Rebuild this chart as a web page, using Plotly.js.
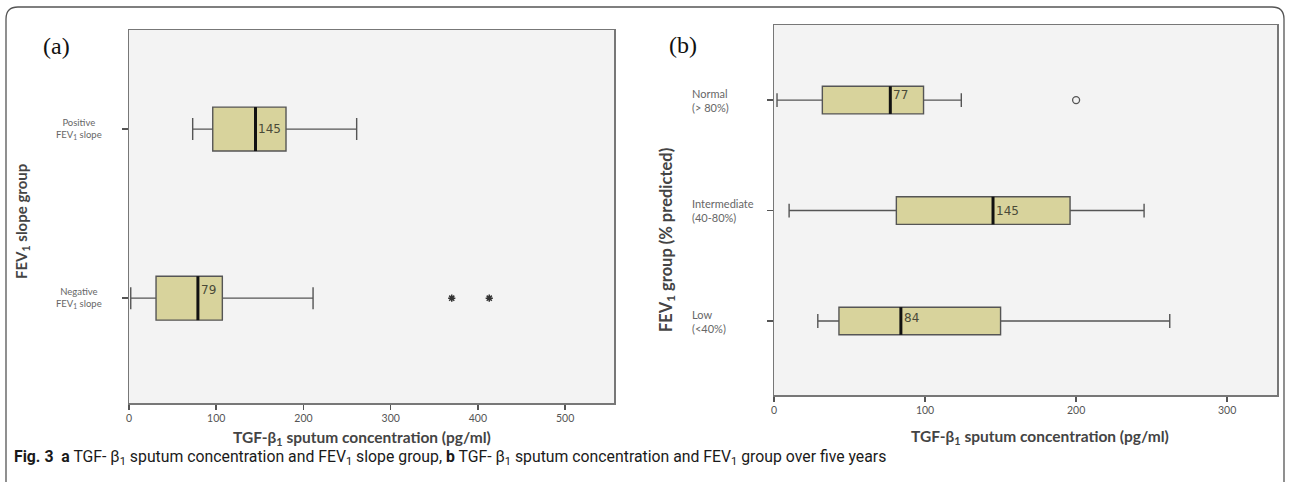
<!DOCTYPE html>
<html>
<head>
<meta charset="utf-8">
<script src="https://cdn.plot.ly/plotly-3.0.1.min.js"></script>
<style>html,body{margin:0;padding:0;background:#fff}#chart{width:1290px;height:482px}</style>
</head>
<body>
<div id="chart"></div>
<script>
// ---------- Panel (a): FEV1 slope group ----------
const groupsA = ['Positive<br>FEV<sub>1</sub> slope', 'Negative<br>FEV<sub>1</sub> slope'];
const lowerA  = [73, 2];
const q1A     = [96, 31];
const medianA = [145, 79];
const q3A     = [180, 107];
const upperA  = [261, 211];
const outlierA_x     = [370, 413];
const outlierA_group = [1, 1];

// ---------- Panel (b): FEV1 group (% predicted) ----------
const groupsB = ['Normal<br>(&gt; 80%)', 'Intermediate<br>(40-80%)', 'Low<br>(&lt;40%)'];
const lowerB  = [2, 10, 29];
const q1B     = [32, 81, 43];
const medianB = [77, 145, 84];
const q3B     = [99, 196, 150];
const upperB  = [124, 245, 262];
const outlierB_x     = [200];
const outlierB_group = [0];

const xTicksA = [0, 100, 200, 300, 400, 500];
const xTicksB = [0, 100, 200, 300];

const xTitle  = '<b>TGF-β<sub>1</sub> sputum concentration (pg/ml)</b>';
const yTitleA = '<b>FEV<sub>1</sub> slope group</b>';
const yTitleB = '<b>FEV<sub>1</sub> group (% predicted)</b>';
const caption = '<b>Fig. 3</b>  <b>a</b> TGF- β<sub>1</sub> sputum concentration and FEV<sub>1</sub> slope group, <b>b</b> TGF- β<sub>1</sub> sputum concentration and FEV<sub>1</sub> group over five years';

// ---------- styling ----------
const W = 1290, H = 482;
const px = v => v / W;
const py = v => 1 - v / H;
const FILL = '#d8d39c', EDGE = '#555555';
const boxWA = 0.26, boxWB = 0.25;
const FONT = 'Lato, "Open Sans", sans-serif';

function idx(arr) { return arr.map((_, i) => i); }
function medianLines(med, w) {
  const x = [], y = [];
  med.forEach((m, i) => { x.push(m, m, null); y.push(i - w / 2, i + w / 2, null); });
  return {x, y};
}

const mA = medianLines(medianA, boxWA);
const mB = medianLines(medianB, boxWB);

const boxCommon = {
  type: 'box', orientation: 'h', boxpoints: false, hoverinfo: 'skip',
  fillcolor: FILL, line: {color: EDGE, width: 1.4}, whiskerwidth: 0.5, showlegend: false
};

const data = [
  Object.assign({}, boxCommon, {
    y: idx(groupsA), q1: q1A, median: medianA, q3: q3A,
    lowerfence: lowerA, upperfence: upperA, width: boxWA, xaxis: 'x', yaxis: 'y'
  }),
  {type: 'scatter', mode: 'lines', x: mA.x, y: mA.y, xaxis: 'x', yaxis: 'y',
   line: {color: '#111', width: 3}, hoverinfo: 'skip', showlegend: false},
  {type: 'scatter', mode: 'markers', x: outlierA_x, y: outlierA_group, xaxis: 'x', yaxis: 'y',
   marker: {symbol: 'asterisk-open', size: 6, color: '#333', line: {color: '#333', width: 1.5}},
   hoverinfo: 'skip', showlegend: false},
  Object.assign({}, boxCommon, {
    y: idx(groupsB), q1: q1B, median: medianB, q3: q3B,
    lowerfence: lowerB, upperfence: upperB, width: boxWB, xaxis: 'x2', yaxis: 'y2'
  }),
  {type: 'scatter', mode: 'lines', x: mB.x, y: mB.y, xaxis: 'x2', yaxis: 'y2',
   line: {color: '#111', width: 3}, hoverinfo: 'skip', showlegend: false},
  {type: 'scatter', mode: 'markers', x: outlierB_x, y: outlierB_group, xaxis: 'x2', yaxis: 'y2',
   marker: {symbol: 'circle-open', size: 7, color: '#555', line: {color: '#555', width: 1.3}},
   hoverinfo: 'skip', showlegend: false}
];

const axisFrame = {
  showline: true, mirror: true, linecolor: '#777', linewidth: 1.5,
  showgrid: false, zeroline: false, ticks: 'outside', tickcolor: '#555', tickwidth: 1.5
};

const layout = {
  width: W, height: H,
  margin: {l: 0, r: 0, t: 0, b: 0},
  paper_bgcolor: '#ffffff', plot_bgcolor: '#f3f3f3',
  showlegend: false,
  font: {family: FONT, color: '#555'},
  xaxis: Object.assign({}, axisFrame, {
    domain: [px(129), px(614)], range: [0, 556], anchor: 'y',
    tickvals: xTicksA, ticklen: 5,
    tickfont: {size: 10.5, color: '#555', family: FONT}
  }),
  yaxis: Object.assign({}, axisFrame, {
    domain: [py(403), py(30)], range: [1.62, -0.586], anchor: 'x',
    tickvals: idx(groupsA), showticklabels: false, ticklen: 6
  }),
  xaxis2: Object.assign({}, axisFrame, {
    domain: [px(774), px(1277)], range: [0, 333], anchor: 'y2',
    tickvals: xTicksB, ticklen: 5,
    tickfont: {size: 10.5, color: '#555', family: FONT}
  }),
  yaxis2: Object.assign({}, axisFrame, {
    domain: [py(395), py(25)], range: [2.67, -0.68], anchor: 'x2',
    tickvals: idx(groupsB), showticklabels: false, ticklen: 6
  }),
  annotations: [],
  shapes: [
    {type: 'path', xref: 'paper', yref: 'paper',
     path: `M ${px(6)},${py(482)} L ${px(6)},${py(19)} Q ${px(6)},${py(7)} ${px(18)},${py(7)} L ${px(1272)},${py(7)} Q ${px(1284)},${py(7)} ${px(1284)},${py(19)} L ${px(1284)},${py(482)}`,
     line: {color: '#555', width: 1.3}}
  ]
};

const A = layout.annotations;
function note(o) { A.push(Object.assign({showarrow: false, xanchor: 'center', yanchor: 'middle'}, o)); }

// axis titles
note({text: xTitle, xref: 'paper', yref: 'paper', x: px(362), y: py(438), font: {size: 15.5, color: '#444', family: FONT}});
note({text: xTitle, xref: 'paper', yref: 'paper', x: px(1040), y: py(437), font: {size: 15.5, color: '#444', family: FONT}});
note({text: yTitleA, xref: 'paper', yref: 'paper', x: px(22), y: py(222), textangle: -90, font: {size: 15, color: '#444', family: FONT}});
note({text: yTitleB, xref: 'paper', yref: 'paper', x: px(666), y: py(240), textangle: -90, font: {size: 16.5, color: '#444', family: FONT}});

// category labels
groupsA.forEach((g, i) => note({
  text: g, xref: 'paper', yref: 'y', x: px(104), y: i, xanchor: 'right', align: 'center',
  font: {size: 9.5, color: '#666', family: FONT}
}));
groupsB.forEach((g, i) => note({
  text: g, xref: 'paper', yref: 'y2', x: px(690), y: i, xanchor: 'left', align: 'left',
  font: {size: 11, color: '#666', family: FONT}
}));
// median labels
const shiftA = [0, 8], shiftB = [5, 0, 3];
medianA.forEach((m, i) => note({
  text: String(m), xref: 'x', yref: 'y', x: m, y: i, xanchor: 'left', xshift: 1, yshift: shiftA[i],
  font: {size: 12, color: '#4a4a38', family: 'DejaVu Sans'}
}));
medianB.forEach((m, i) => note({
  text: String(m), xref: 'x2', yref: 'y2', x: m, y: i, xanchor: 'left', xshift: 1, yshift: shiftB[i],
  font: {size: 12, color: '#4a4a38', family: 'DejaVu Sans'}
}));
// panel letters
note({text: '(a)', xref: 'paper', yref: 'paper', x: px(56), y: py(46),
  font: {size: 24, color: '#111', family: '"Liberation Serif", serif'}});
note({text: '(b)', xref: 'paper', yref: 'paper', x: px(683), y: py(45),
  font: {size: 24, color: '#111', family: '"Liberation Serif", serif'}});
// caption
note({
  text: caption, xref: 'paper', yref: 'paper', x: px(12), y: py(457), xanchor: 'left',
  font: {size: 15.8, color: '#1a1a1a', family: 'Roboto, "Liberation Sans", sans-serif'}
});

Plotly.newPlot('chart', data, layout, {staticPlot: true, displayModeBar: false});
</script>
</body>
</html>
